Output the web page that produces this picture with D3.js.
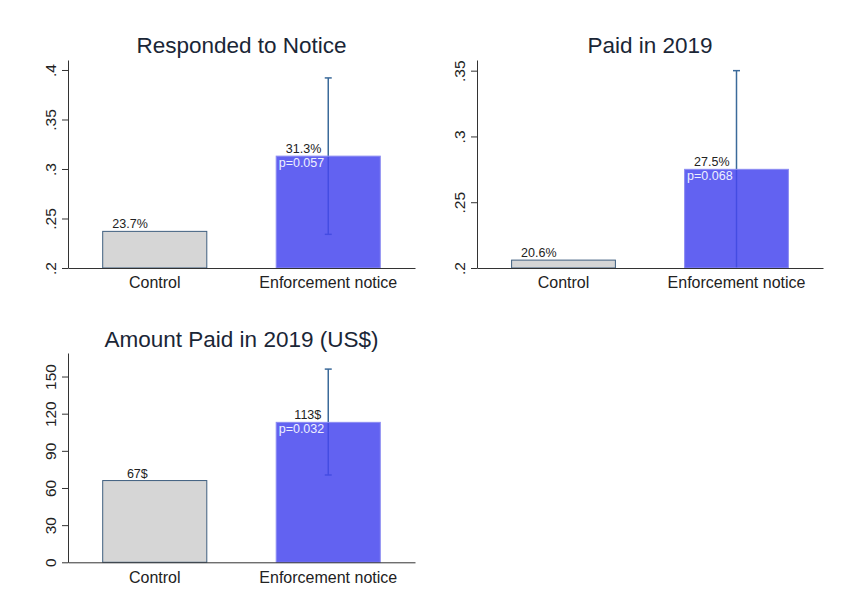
<!DOCTYPE html>
<html><head><meta charset="utf-8">
<script src="https://cdn.jsdelivr.net/npm/d3@7"></script>
<style>
html,body{margin:0;padding:0;background:#fff;}
text{font-family:Arial,"Liberation Sans",sans-serif;}
</style></head>
<body><svg id="chart" width="843" height="606"></svg>
<script>
const categories = ["Control", "Enforcement notice"];
const panelTitles = ["Responded to Notice", "Paid in 2019", "Amount Paid in 2019 (US$)"];
const controlValues = [0.237, 0.206, 66];
const treatmentValues = [0.313, 0.275, 113];
const ciLow = [0.234, 0.200, 70.5];
const ciHigh = [0.392, 0.350, 156];
const controlLabels = ["23.7%", "20.6%", "67$"];
const treatmentLabels = ["31.3%", "27.5%", "113$"];
const pLabels = ["p=0.057", "p=0.068", "p=0.032"];
const yTickValues = [[0.2, 0.25, 0.3, 0.35, 0.4], [0.2, 0.25, 0.3, 0.35], [0, 30, 60, 90, 120, 150]];
const yTickLabels = [[".2", ".25", ".3", ".35", ".4"], [".2", ".25", ".3", ".35"], ["0", "30", "60", "90", "120", "150"]];
const yDomains = [[0.2, 0.4101], [0.2, 0.3581], [0, 169]];

const layout = [
  {x0: 68, x1: 415, yBottom: 268, yTop: 60, titleY: 53},
  {x0: 477, x1: 823, yBottom: 268, yTop: 60, titleY: 53},
  {x0: 68, x1: 415, yBottom: 562.3, yTop: 353, titleY: 347}
];

const svg = d3.select("#chart");

panelTitles.forEach((title, i) => {
  const L = layout[i];
  const g = svg.append("g");
  const x = d3.scaleBand().domain(categories).range([L.x0, L.x1]).paddingInner(0.4).paddingOuter(0.2);
  const y = d3.scaleLinear().domain(yDomains[i]).range([L.yBottom, L.yTop]);
  const vals = [controlValues[i], treatmentValues[i]];

  // title
  g.append("text").attr("x", (L.x0 + L.x1) / 2).attr("y", L.titleY)
    .attr("text-anchor", "middle").attr("font-size", 22.5).attr("fill", "#1a2636").text(title);

  // error bar (under treatment bar)
  const cx = x(categories[1]) + x.bandwidth() / 2;
  const eb = g.append("g").attr("stroke", "#3b6a9a").attr("stroke-width", 1.5);
  const lo = Math.max(ciLow[i], yDomains[i][0]);
  eb.append("line").attr("x1", cx).attr("x2", cx).attr("y1", y(lo)).attr("y2", y(ciHigh[i]));
  eb.append("line").attr("x1", cx - 3.5).attr("x2", cx + 3.5).attr("y1", y(ciHigh[i])).attr("y2", y(ciHigh[i]));
  if (ciLow[i] > yDomains[i][0])
    eb.append("line").attr("x1", cx - 3.5).attr("x2", cx + 3.5).attr("y1", y(ciLow[i])).attr("y2", y(ciLow[i]));

  // bars
  g.append("rect").attr("x", x(categories[0])).attr("width", x.bandwidth())
    .attr("y", y(vals[0])).attr("height", y(yDomains[i][0]) - y(vals[0]))
    .attr("fill", "#d6d6d6").attr("stroke", "#3f5f7f").attr("stroke-width", 1);
  g.append("rect").attr("x", x(categories[1])).attr("width", x.bandwidth())
    .attr("y", y(vals[1])).attr("height", y(yDomains[i][0]) - y(vals[1]))
    .attr("fill", "rgb(70,70,238)").attr("fill-opacity", 0.85)
    .attr("stroke", "#8c8cf2").attr("stroke-width", 1);

  // value labels
  const labs = [controlLabels[i], treatmentLabels[i]];
  categories.forEach((c, j) => {
    g.append("text").attr("x", x(c) + x.bandwidth() / 2 - 7).attr("y", y(vals[j]) - 3)
      .attr("text-anchor", "end").attr("font-size", 12.5).attr("fill", "#222").text(labs[j]);
  });
  g.append("text").attr("x", x(categories[1]) + 2.5).attr("y", y(vals[1]) + 11)
    .attr("font-size", 12.5).attr("fill", "#eef0ff").text(pLabels[i]);

  // y axis
  const ya = g.append("g").attr("transform", `translate(${L.x0},0)`)
    .call(d3.axisLeft(y).tickValues(yTickValues[i]).tickSize(6).tickSizeOuter(0)
      .tickFormat((d, k) => yTickLabels[i][k]));
  ya.select(".domain").attr("stroke", "#333");
  ya.selectAll(".tick line").attr("stroke", "#333");
  ya.selectAll(".tick text").attr("x", null).attr("dy", null)
    .attr("text-anchor", "middle").attr("transform", "translate(-12.5,0) rotate(-90)")
    .attr("font-size", 15.5).attr("fill", "#222")
    .style("font-family", "Arial, 'Liberation Sans', sans-serif");

  // x axis
  const xa = g.append("g").attr("transform", `translate(0,${L.yBottom})`)
    .call(d3.axisBottom(x).tickSize(0).tickSizeOuter(0).tickPadding(0));
  xa.select(".domain").attr("stroke", "#333");
  xa.selectAll(".tick text").attr("dy", null).attr("y", 20.3)
    .attr("font-size", 16).attr("fill", "#222")
    .style("font-family", "Arial, 'Liberation Sans', sans-serif");
});
</script>
</body></html>
